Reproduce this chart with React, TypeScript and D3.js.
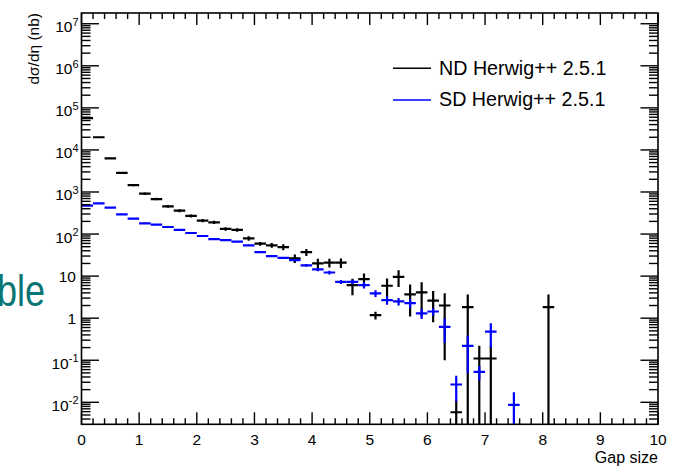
import React from "react";
import * as d3 from "d3";

const binCentersND = [0.1, 0.3, 0.5, 0.7, 0.9, 1.1, 1.3, 1.5, 1.7, 1.9, 2.1, 2.3, 2.5, 2.7, 2.9, 3.1, 3.3, 3.5, 3.7, 3.9, 4.1, 4.3, 4.5, 4.7, 4.9, 5.1, 5.3, 5.5, 5.7, 5.9, 6.1, 6.3, 6.5, 6.7, 6.9, 7.1, 8.1];
const valuesND = [57000, 20000, 6300, 2850, 1450, 910, 680, 457, 360, 270, 209, 190, 133, 126, 79, 59, 54, 49, 26.5, 37, 20, 21, 21, 6.1, 8.5, 1.18, 5.9, 9.6, 3.7, 4.1, 2.6, 2.0, 0.0058, 1.83, 0.11, 0.11, 1.83];
const errorsND = [1500, 600, 250, 130, 80, 60, 45, 35, 28, 22, 18, 16, 13, 12, 10, 6, 7, 8, 6, 7, 6, 5, 5.4, 2.6, 3, 0.25, 2.9, 4.1, 2.6, 3.0, 1.8, 1.9, 0.0058, 1.83, 0.11, 0.11, 1.83];

const binCentersSD = [0.1, 0.3, 0.5, 0.7, 0.9, 1.1, 1.3, 1.5, 1.7, 1.9, 2.1, 2.3, 2.5, 2.7, 2.9, 3.1, 3.3, 3.5, 3.7, 3.9, 4.1, 4.3, 4.5, 4.7, 4.9, 5.1, 5.3, 5.5, 5.7, 5.9, 6.1, 6.3, 6.5, 6.7, 6.9, 7.1, 7.5];
const valuesSD = [473, 537, 424, 294, 232, 180, 167, 147, 126, 106, 90, 76, 72, 66, 54, 37, 30, 27, 24, 18, 14.4, 12.2, 7.3, 7.3, 6.1, 3.9, 2.7, 2.5, 2.27, 1.3, 1.44, 0.62, 0.0265, 0.22, 0.053, 0.48, 0.0087];
const errorsSD = [10, 11, 9, 7, 6, 5, 5, 4.5, 4, 3.5, 3, 2.8, 2.6, 2.4, 2, 1.5, 1.3, 1.3, 1.5, 1.3, 1.3, 1.2, 0.8, 0.9, 1.0, 0.7, 0.6, 0.5, 0.55, 0.35, 0.3, 0.36, 0.016, 0.17, 0.02, 0.28, 0.0087];

const binWidth = 0.2;
const xTickLabels = ["0", "1", "2", "3", "4", "5", "6", "7", "8", "9", "10"];
const yDecades = [-2, -1, 0, 1, 2, 3, 4, 5, 6, 7];
const legendLabels = ["ND Herwig++ 2.5.1", "SD Herwig++ 2.5.1"];
const seriesColors = ["#000000", "#0000ff"];

const W = 679;
const H = 466;
const left = 81.5;
const right = 658;
const top = 13;
const bottom = 424.3;
const FONT = "'Liberation Sans', Arial, sans-serif";

export default function App() {
  const x = d3.scaleLinear().domain([0, 10]).range([left, right]);
  const y = d3.scaleLog().domain([0.003, 1.8e7]).range([bottom, top]);

  const xMajor = d3.range(0, 11);
  const xMinor = d3.range(0, 50).map((i) => i * 0.2).filter((v) => Math.abs(v - Math.round(v)) > 1e-6);

  const yMinor: number[] = [];
  for (let n = -3; n <= 7; n++) {
    for (let k = 2; k <= 9; k++) {
      const v = k * Math.pow(10, n);
      if (v > 0.003 && v < 1.8e7) yMinor.push(v);
    }
  }

  const series = [
    { c: binCentersND, v: valuesND, e: errorsND, color: seriesColors[0] },
    { c: binCentersSD, v: valuesSD, e: errorsSD, color: seriesColors[1] },
  ];

  const yLo = (v: number, e: number) => (v - e <= 0 ? bottom + 2 : y(v - e));

  const yLabel = (n: number) => {
    if (n === 0) return { base: "1", sup: "" };
    if (n === 1) return { base: "10", sup: "" };
    return { base: "10", sup: String(n) };
  };

  return (
    <svg width={W} height={H} style={{ position: "absolute", left: 0, top: 0, background: "#fff" }} fontFamily={FONT}>
      <rect x={0} y={0} width={W} height={H} fill="#fff" />
      <defs>
        <clipPath id="plotClip">
          <rect x={left} y={top} width={right - left} height={bottom - top} />
        </clipPath>
      </defs>

      {/* background slide text, cut at the left edge as in the source */}
      <text x={0} y={0} fontSize={45} fill="#0b7575" transform="translate(-3,306) scale(0.8,1)">
        ble
      </text>

      {/* data */}
      <g clipPath="url(#plotClip)">
        {series.map((s, si) => (
          <g key={si} stroke={s.color} strokeWidth={2.2} fill="none">
            {s.c.map((c, i) => {
              const v = s.v[i];
              const e = s.e[i];
              return (
                <g key={i}>
                  <line x1={x(c - binWidth / 2)} x2={x(c + binWidth / 2)} y1={y(v)} y2={y(v)} />
                  <line x1={x(c)} x2={x(c)} y1={y(v + e)} y2={yLo(v, e)} />
                </g>
              );
            })}
          </g>
        ))}
      </g>

      {/* frame */}
      <rect x={left} y={top} width={right - left} height={bottom - top} fill="none" stroke="#000" strokeWidth={1.6} />

      {/* ticks */}
      <g stroke="#000" strokeWidth={1.4}>
        {xMajor.map((v) => (
          <g key={"xm" + v}>
            <line x1={x(v)} x2={x(v)} y1={bottom} y2={bottom - 12} />
            <line x1={x(v)} x2={x(v)} y1={top} y2={top + 12} />
          </g>
        ))}
        {xMinor.map((v) => (
          <g key={"xn" + v}>
            <line x1={x(v)} x2={x(v)} y1={bottom} y2={bottom - 6} />
            <line x1={x(v)} x2={x(v)} y1={top} y2={top + 6} />
          </g>
        ))}
        {yDecades.map((n) => {
          const yy = y(Math.pow(10, n));
          return (
            <g key={"ym" + n}>
              <line x1={left} x2={left + 17.5} y1={yy} y2={yy} />
              <line x1={right} x2={right - 17.5} y1={yy} y2={yy} />
            </g>
          );
        })}
        {yMinor.map((v, i) => (
          <g key={"yn" + i}>
            <line x1={left} x2={left + 9} y1={y(v)} y2={y(v)} />
            <line x1={right} x2={right - 9} y1={y(v)} y2={y(v)} />
          </g>
        ))}
      </g>

      {/* x tick labels */}
      {xTickLabels.map((t, i) => (
        <text key={"xl" + i} x={x(i)} y={445} fontSize={15.5} textAnchor="middle" fill="#000">
          {t}
        </text>
      ))}

      {/* y tick labels */}
      {yDecades.map((n) => {
        const yy = y(Math.pow(10, n));
        const lab = yLabel(n);
        if (!lab.sup) {
          return (
            <text key={"yl" + n} x={76} y={yy + 5.5} fontSize={15.5} textAnchor="end" fill="#000">
              {lab.base}
            </text>
          );
        }
        return (
          <text key={"yl" + n} x={78.5} y={yy + 8.5} fontSize={15.5} textAnchor="end" fill="#000">
            {lab.base}
            <tspan dy={-6.5} fontSize={11}>
              {lab.sup}
            </tspan>
          </text>
        );
      })}

      {/* axis titles */}
      <text x={0} y={0} fontSize={15.5} textAnchor="end" fill="#000" transform={`translate(38.5, ${top}) rotate(-90)`}>
        dσ/dη (nb)
      </text>
      <text x={right} y={463} fontSize={16} textAnchor="end" fill="#000">
        Gap size
      </text>

      {/* legend */}
      {legendLabels.map((l, i) => {
        const ly = 68.3 + i * 31.7;
        return (
          <g key={"lg" + i}>
            <line x1={393} x2={431} y1={ly} y2={ly} stroke={seriesColors[i]} strokeWidth={1.6} />
            <text x={439} y={ly + 6.2} fontSize={19.7} fill="#000">
              {l}
            </text>
          </g>
        );
      })}
    </svg>
  );
}
